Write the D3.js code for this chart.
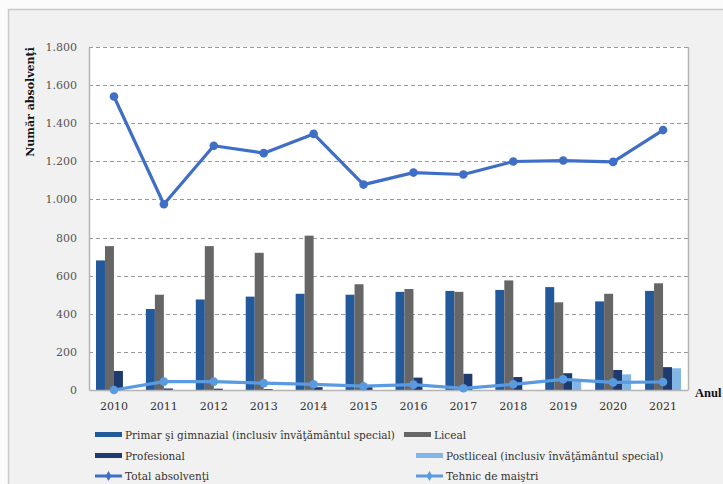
<!DOCTYPE html>
<html><head><meta charset="utf-8">
<script src="https://cdn.jsdelivr.net/npm/d3@7"></script>
<style>
html,body{margin:0;padding:0;background:#fbfbfb;}
svg{display:block;}
</style></head>
<body>
<svg id="chart" width="723" height="484"></svg>
<script>
const years = ["2010","2011","2012","2013","2014","2015","2016","2017","2018","2019","2020","2021"];
const primar      = [680, 425, 475, 490, 505, 500, 515, 520, 525, 540, 465, 520];
const liceal      = [755, 500, 755, 720, 810, 555, 530, 515, 575, 460, 505, 560];
const profesional = [100, 8, 7, 5, 15, 15, 65, 85, 68, 88, 105, 120];
const postliceal  = [0, 0, 0, 0, 0, 0, 0, 0, 0, 55, 82, 114];
const total       = [1540, 975, 1282, 1243, 1344, 1078, 1141, 1131, 1199, 1204, 1197, 1364];
const tehnic      = [0, 44, 44, 36, 30, 20, 28, 9, 30, 56, 40, 42];
const yTicks = [0, 200, 400, 600, 800, 1000, 1200, 1400, 1600, 1800];

const barSeries = [
  {name: "Primar şi gimnazial (inclusiv învăţământul special)", values: primar, color: "#22599a"},
  {name: "Liceal", values: liceal, color: "#666666"},
  {name: "Profesional", values: profesional, color: "#1f3a6e"},
  {name: "Postliceal (inclusiv învăţământul special)", values: postliceal, color: "#82b6e6"}
];
const lineSeries = [
  {name: "Total absolvenţi", values: total, color: "#3f6ec6"},
  {name: "Tehnic de maiştri", values: tehnic, color: "#5a9ae0"}
];

(function () {
const svg = d3.select("#chart");
const font = "'DejaVu Serif', serif";

// outer frame
svg.append("rect").attr("x", 8.5).attr("y", 9.5).attr("width", 730).attr("height", 490)
  .attr("fill", "#f1f1f1").attr("stroke", "#c9c9c9").attr("stroke-width", 1.5);

const pLeft = 89, pRight = 688, pTop = 47, pBottom = 390;

const x0 = d3.scaleBand().domain(years).range([pLeft, pRight]).paddingInner(0.28).paddingOuter(0.14);
const x1 = d3.scaleBand().domain(d3.range(barSeries.length)).range([0, x0.bandwidth()]);
const y = d3.scaleLinear().domain([0, 1800]).range([pBottom, pTop]);

// plot background
svg.append("rect").attr("x", pLeft).attr("y", pTop).attr("width", pRight - pLeft).attr("height", pBottom - pTop)
  .attr("fill", "#ffffff");

// gridlines
const fmt = d3.formatLocale({decimal: ",", thousands: ".", grouping: [3], currency: ["", ""]}).format(",.0f");
svg.append("g").selectAll("line").data(yTicks.filter(d => d > 0)).join("line")
  .attr("x1", pLeft).attr("x2", pRight)
  .attr("y1", d => Math.round(y(d)) + 0.5).attr("y2", d => Math.round(y(d)) + 0.5)
  .attr("stroke", "#9a9a9a").attr("stroke-width", 1).attr("stroke-dasharray", "4,3");

// right border
svg.append("line").attr("x1", pRight + 0.5).attr("x2", pRight + 0.5).attr("y1", pTop).attr("y2", pBottom)
  .attr("stroke", "#b5b5b5").attr("stroke-width", 1.5);

// y axis
const yAxis = svg.append("g").attr("transform", `translate(${pLeft},0)`)
  .call(d3.axisLeft(y).tickValues(yTicks).tickFormat(fmt).tickSize(0).tickPadding(12));
yAxis.select(".domain").attr("stroke", "#b5b5b5").attr("stroke-width", 1.5);
yAxis.selectAll("text").attr("font-family", font).attr("font-size", "11px").attr("fill", "#555");

// bars
barSeries.forEach((s, i) => {
  svg.append("g").selectAll("rect").data(s.values).join("rect")
    .attr("x", (d, j) => x0(years[j]) + x1(i))
    .attr("width", x1.bandwidth())
    .attr("y", d => y(d))
    .attr("height", d => pBottom - y(d))
    .attr("fill", s.color);
});

// x axis
const xAxis = svg.append("g").attr("transform", `translate(0,${pBottom})`)
  .call(d3.axisBottom(x0).tickSize(0).tickPadding(12));
xAxis.select(".domain").attr("stroke", "#b5b5b5").attr("stroke-width", 1.5);
xAxis.selectAll("text").attr("font-family", font).attr("font-size", "11px").attr("fill", "#333");

// lines
const cx = (d, j) => x0(years[j]) + x0.bandwidth() / 2;
lineSeries.slice().reverse().forEach((s) => {
  const line = d3.line().x(cx).y(d => y(d));
  svg.append("path").datum(s.values).attr("d", line)
    .attr("fill", "none").attr("stroke", s.color).attr("stroke-width", 3.2).attr("stroke-linejoin", "round");
  svg.append("g").selectAll("circle").data(s.values).join("circle")
    .attr("cx", cx).attr("cy", d => y(d)).attr("r", 4.3).attr("fill", s.color);
});

// axis titles
svg.append("text").attr("transform", "translate(34,102) rotate(-90)")
  .attr("text-anchor", "middle").attr("font-family", font).attr("font-weight", "bold")
  .attr("font-size", "11px").attr("fill", "#111").text("Număr absolvenţi");
svg.append("text").attr("x", 695).attr("y", 397)
  .attr("font-family", "'Liberation Serif', serif").attr("font-weight", "bold").attr("font-size", "12.5px").attr("fill", "#111").text("Anul");

// legend
const legendItems = [
  {s: barSeries[0], type: "bar", x: 95, y: 435},
  {s: barSeries[1], type: "bar", x: 404, y: 435},
  {s: barSeries[2], type: "bar", x: 95, y: 456},
  {s: barSeries[3], type: "bar", x: 416, y: 456},
  {s: lineSeries[0], type: "line", x: 95, y: 476},
  {s: lineSeries[1], type: "line", x: 416, y: 476}
];
const lg = svg.append("g");
legendItems.forEach(it => {
  const g = lg.append("g").attr("transform", `translate(${it.x},${it.y})`);
  if (it.type === "bar") {
    g.append("rect").attr("x", 0).attr("y", -3).attr("width", 27).attr("height", 5).attr("fill", it.s.color);
  } else {
    g.append("line").attr("x1", 0).attr("x2", 27).attr("y1", 0).attr("y2", 0)
      .attr("stroke", it.s.color).attr("stroke-width", 3);
    g.append("path").attr("d", d3.symbol(d3.symbolDiamond, 30)()).attr("transform", "translate(13.5,0)")
      .attr("fill", it.s.color);
  }
  g.append("text").attr("x", 30).attr("y", 0).attr("dy", "0.35em")
    .attr("font-family", font).attr("font-size", "10.5px").attr("fill", "#333").text(it.s.name);
});
})();
</script>
</body></html>
